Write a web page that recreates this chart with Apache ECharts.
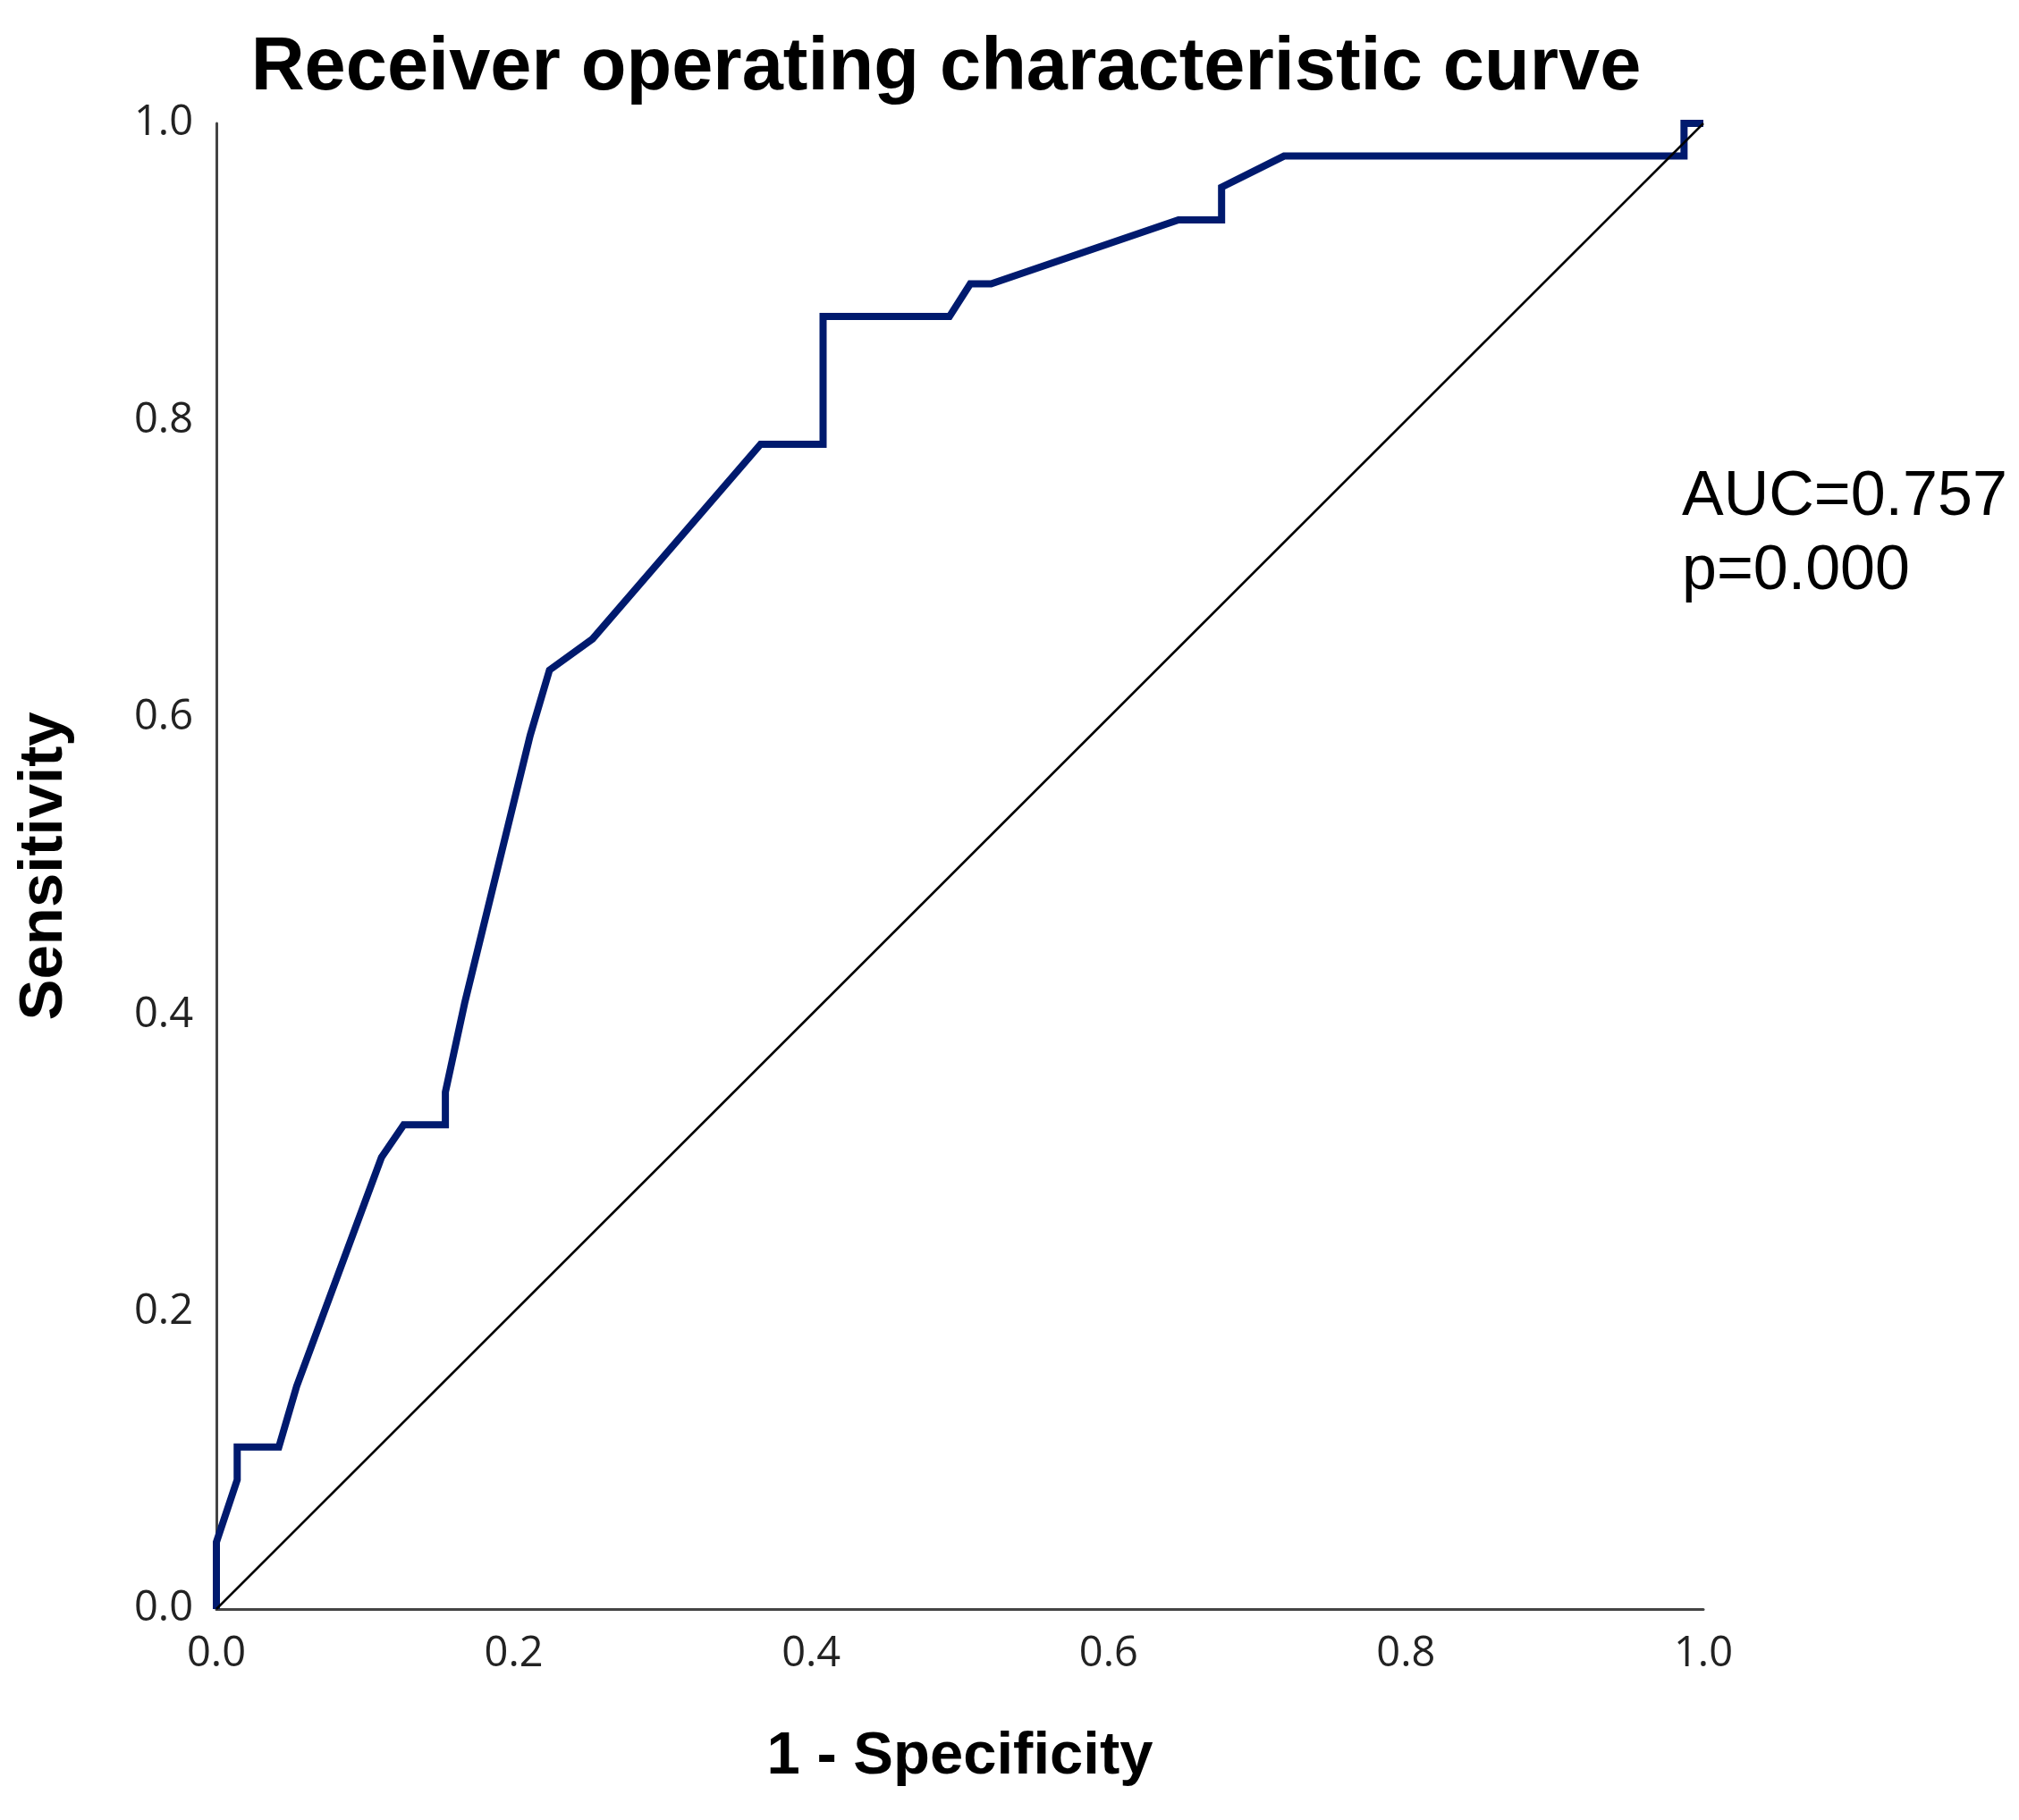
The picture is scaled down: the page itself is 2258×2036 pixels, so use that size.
<!DOCTYPE html>
<html>
<head>
<meta charset="utf-8">
<script src="https://cdn.jsdelivr.net/npm/echarts@6/dist/echarts.min.js"></script>
<style>
html,body{margin:0;padding:0;background:#fff;}
#chart{width:2258px;height:2036px;}
</style>
</head>
<body>
<div id="chart"></div>
<script>
// 1 - Specificity (false positive rate) values
const fpr = [0, 0, 0.014, 0.014, 0.042, 0.054, 0.111, 0.126, 0.154, 0.154, 0.167, 0.211, 0.224, 0.253, 0.366, 0.408, 0.408, 0.493, 0.507, 0.521, 0.647, 0.676, 0.676, 0.718, 0.987, 0.987, 1.0];
// Sensitivity (true positive rate)
const tpr = [0, 0.045, 0.087, 0.109, 0.109, 0.150, 0.304, 0.326, 0.326, 0.348, 0.408, 0.588, 0.632, 0.653, 0.784, 0.784, 0.870, 0.870, 0.892, 0.892, 0.935, 0.935, 0.957, 0.978, 0.978, 1.0, 1.0];
// Reference (chance) line
const refX = [0, 1];
const refY = [0, 1];
// Tick values
const xTicks = [0.0, 0.2, 0.4, 0.6, 0.8, 1.0];
const yTicks = [0.0, 0.2, 0.4, 0.6, 0.8, 1.0];
// Texts
const titleText = 'Receiver operating characteristic curve';
const xName = '1 - Specificity';
const yName = 'Sensitivity';
const statLines = ['AUC=0.757', 'p=0.000'];

const rocData = fpr.map((x, i) => [x, tpr[i]]);
const refData = refX.map((x, i) => [x, refY[i]]);

const chart = echarts.init(document.getElementById('chart'), null, {renderer: 'canvas'});

const tickLabel = {
  fontFamily: 'Open Sans',
  fontSize: 47,
  color: '#222',
  formatter: v => Number(v).toFixed(1)
};
const axisLineStyle = {color: '#444', width: 3};

chart.setOption({
  backgroundColor: '#fff',
  animation: false,
  grid: {left: 242, right: 353, top: 138, bottom: 236, containLabel: false, outerBoundsMode: 'none'},
  xAxis: {
    type: 'value', min: xTicks[0], max: xTicks[xTicks.length - 1], interval: 0.2,
    name: xName, nameLocation: 'middle', nameGap: 132,
    nameTextStyle: {fontFamily: 'Liberation Sans', fontWeight: 'bold', fontSize: 67, color: '#000'},
    axisLine: {show: true, lineStyle: axisLineStyle},
    axisTick: {show: false},
    splitLine: {show: false},
    axisLabel: Object.assign({margin: 27}, tickLabel)
  },
  yAxis: {
    type: 'value', min: yTicks[0], max: yTicks[yTicks.length - 1], interval: 0.2,
    name: yName, nameLocation: 'middle', nameGap: 158, nameRotate: 90,
    nameTextStyle: {fontFamily: 'Liberation Sans', fontWeight: 'bold', fontSize: 69, color: '#000'},
    axisLine: {show: true, lineStyle: axisLineStyle},
    axisTick: {show: false},
    splitLine: {show: false},
    axisLabel: Object.assign({margin: 26}, tickLabel)
  },
  series: [
    {
      type: 'line', data: rocData, showSymbol: false, symbol: 'none', clip: false,
      lineStyle: {color: '#001a6e', width: 8, cap: 'butt', join: 'miter'},
      z: 2
    },
    {
      type: 'line', data: refData, showSymbol: false, symbol: 'none', clip: false,
      lineStyle: {color: '#000', width: 2.5},
      z: 3
    }
  ],
  graphic: [
    {
      type: 'text', x: 1058, y: 77,
      style: {text: titleText, font: 'bold 83px "Liberation Sans"', fill: '#000', align: 'center', verticalAlign: 'middle'}
    },
    {
      type: 'text', x: 1881, y: 557,
      style: {text: statLines[0], font: '70px "Liberation Sans"', fill: '#000', align: 'left', verticalAlign: 'middle'}
    },
    {
      type: 'text', x: 1881, y: 640,
      style: {text: statLines[1], font: '70px "Liberation Sans"', fill: '#000', align: 'left', verticalAlign: 'middle'}
    }
  ]
});
</script>
</body>
</html>
